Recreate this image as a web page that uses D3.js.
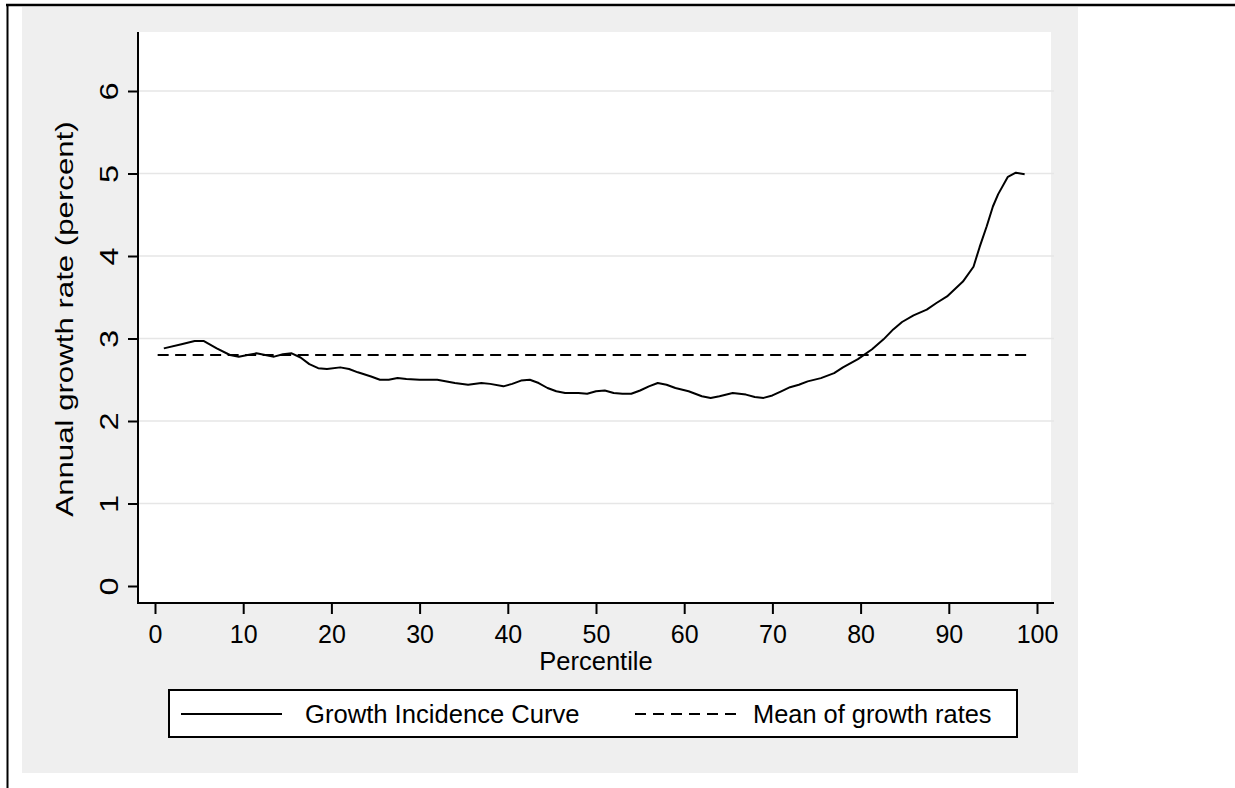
<!DOCTYPE html>
<html>
<head>
<meta charset="utf-8">
<script src="https://cdn.jsdelivr.net/npm/d3@7"></script>
<style>
  html, body { margin: 0; padding: 0; background: #ffffff; }
  svg { display: block; }
  text { font-family: Arial, "Liberation Sans", sans-serif; fill: #000; }
</style>
</head>
<body>
<script>
// Growth incidence curve: annual growth rate by percentile
const percentiles = [1, 3, 4.5, 5.5, 7, 8.5, 9.5, 10.5, 11.5, 12.5, 13.5, 14.5, 15.5, 16.5, 17.5, 18.5, 19.5,
  21, 22, 23, 24.5, 25.5, 26.5, 27.5, 28.5, 30, 32, 34, 35.5, 37, 38, 39.5, 40.5, 41.5, 42.5, 43.5, 44.5,
  45.5, 46.5, 48, 49, 50, 51, 52, 53, 54, 55, 56, 57, 58, 59, 60.5, 62, 63, 64, 65.5, 67, 68, 69, 70, 71,
  72, 73, 74, 75.5, 77, 78, 79.7, 81.3, 82.6, 83.7, 84.7, 86, 87.5, 88.6, 89.8, 90.7, 91.6, 92.8, 93.5, 94.3,
  95, 95.6, 96.7, 97.6, 98.6];
const growthRates = [2.88, 2.93, 2.97, 2.97, 2.88, 2.80, 2.78, 2.80, 2.82, 2.80, 2.78, 2.81, 2.82, 2.77, 2.69, 2.64, 2.63,
  2.65, 2.63, 2.59, 2.54, 2.50, 2.50, 2.52, 2.51, 2.50, 2.50, 2.46, 2.44, 2.46, 2.45, 2.42, 2.45, 2.49, 2.50, 2.46, 2.40,
  2.36, 2.34, 2.34, 2.33, 2.36, 2.37, 2.34, 2.33, 2.33, 2.37, 2.42, 2.46, 2.44, 2.40, 2.36, 2.30, 2.28, 2.30, 2.34, 2.32,
  2.29, 2.28, 2.31, 2.36, 2.41, 2.44, 2.48, 2.52, 2.58, 2.65, 2.75, 2.87, 2.99, 3.11, 3.20, 3.28, 3.35, 3.43, 3.51,
  3.60, 3.69, 3.87, 4.11, 4.36, 4.60, 4.75, 4.96, 5.01, 4.99];

// Mean of the growth rates, drawn across the percentile range
const meanGrowth = 2.8;
const meanSpan = [0.3, 99.2];

const xTicks = [0, 10, 20, 30, 40, 50, 60, 70, 80, 90, 100];
const yTicks = [0, 1, 2, 3, 4, 5, 6];
const yGridTicks = [1, 2, 3, 4, 5, 6];

const seriesNames = ["Growth Incidence Curve", "Mean of growth rates"];
const xTitle = "Percentile";
const yTitle = "Annual growth rate (percent)";

const W = 1235, H = 788;
const svg = d3.select("body").append("svg").attr("width", W).attr("height", H);

// outer frame and grey graph region
svg.append("rect").attr("x", 22).attr("y", 7).attr("width", 1056).attr("height", 766).attr("fill", "#efefef");
svg.append("line").attr("x1", 6).attr("x2", W).attr("y1", 5).attr("y2", 5).attr("stroke", "#000").attr("stroke-width", 2.5);
svg.append("line").attr("x1", 7.5).attr("x2", 7.5).attr("y1", 4).attr("y2", H).attr("stroke", "#000").attr("stroke-width", 2);

// plot region
const plot = { left: 138, right: 1051, top: 32, bottom: 603 };
svg.append("rect").attr("x", plot.left).attr("y", plot.top)
  .attr("width", plot.right - plot.left).attr("height", plot.bottom - plot.top).attr("fill", "#fff");

const x = d3.scaleLinear().domain([0, 100]).range([155, 1037]);
const y = d3.scaleLinear().domain([0, 6]).range([586, 91]);

// horizontal grid lines
svg.append("g").selectAll("line").data(yGridTicks).join("line")
  .attr("x1", plot.left).attr("x2", 1054)
  .attr("y1", d => y(d)).attr("y2", d => y(d))
  .attr("stroke", "#e6e6e6").attr("stroke-width", 1.6);

// mean line
svg.append("line")
  .attr("x1", x(meanSpan[0])).attr("x2", x(meanSpan[1]))
  .attr("y1", y(meanGrowth)).attr("y2", y(meanGrowth))
  .attr("stroke", "#000").attr("stroke-width", 2).attr("stroke-dasharray", "11,6.5");

// growth incidence curve
const pts = percentiles.map((p, i) => [p, growthRates[i]]);
svg.append("path").datum(pts)
  .attr("d", d3.line().x(d => x(d[0])).y(d => y(d[1])))
  .attr("fill", "none").attr("stroke", "#000").attr("stroke-width", 2).attr("stroke-linejoin", "round");

// x axis
const xAxis = svg.append("g").attr("transform", `translate(0,${plot.bottom})`)
  .call(d3.axisBottom(x).tickValues(xTicks).tickSize(11).tickSizeOuter(0).tickPadding(5).tickFormat(d3.format("d")));
xAxis.select(".domain").attr("d", `M${plot.left},0H1054`).attr("stroke-width", 2);
xAxis.selectAll(".tick line").attr("stroke-width", 2);
xAxis.selectAll(".tick text").attr("font-size", 25).attr("dy", null).attr("y", 40)
  .style("font-family", "Arial, 'Liberation Sans', sans-serif");

// y axis
const yAxis = svg.append("g").attr("transform", `translate(${plot.left},0)`)
  .call(d3.axisLeft(y).tickValues(yTicks).tickSize(10).tickSizeOuter(0).tickFormat(d3.format("d")));
yAxis.select(".domain").attr("d", `M0,${plot.top}V${plot.bottom + 1}`).attr("stroke-width", 2);
yAxis.selectAll(".tick line").attr("stroke-width", 2);
yAxis.selectAll(".tick text")
  .attr("x", null).attr("dy", null).attr("text-anchor", "middle")
  .attr("transform", "translate(-20,0) rotate(-90) scale(1.3,1)")
  .attr("font-size", 25)
  .style("font-family", "Arial, 'Liberation Sans', sans-serif");

// axis titles
svg.append("text").attr("x", 596).attr("y", 670).attr("text-anchor", "middle")
  .attr("font-size", 25.5).text(xTitle);
svg.append("text").attr("text-anchor", "middle")
  .attr("transform", "translate(73,319) rotate(-90) scale(1.3,1)")
  .attr("font-size", 24).text(yTitle);

// legend
const lg = svg.append("g");
lg.append("rect").attr("x", 169).attr("y", 690).attr("width", 848).attr("height", 47)
  .attr("fill", "#fff").attr("stroke", "#000").attr("stroke-width", 2);
lg.append("line").attr("x1", 181).attr("x2", 282).attr("y1", 714).attr("y2", 714)
  .attr("stroke", "#000").attr("stroke-width", 2);
lg.append("text").attr("x", 305).attr("y", 723).attr("font-size", 25.6).text(seriesNames[0]);
lg.append("line").attr("x1", 635).attr("x2", 737).attr("y1", 714).attr("y2", 714)
  .attr("stroke", "#000").attr("stroke-width", 2).attr("stroke-dasharray", "11,7");
lg.append("text").attr("x", 753).attr("y", 723).attr("font-size", 25.4).text(seriesNames[1]);
</script>
</body>
</html>
